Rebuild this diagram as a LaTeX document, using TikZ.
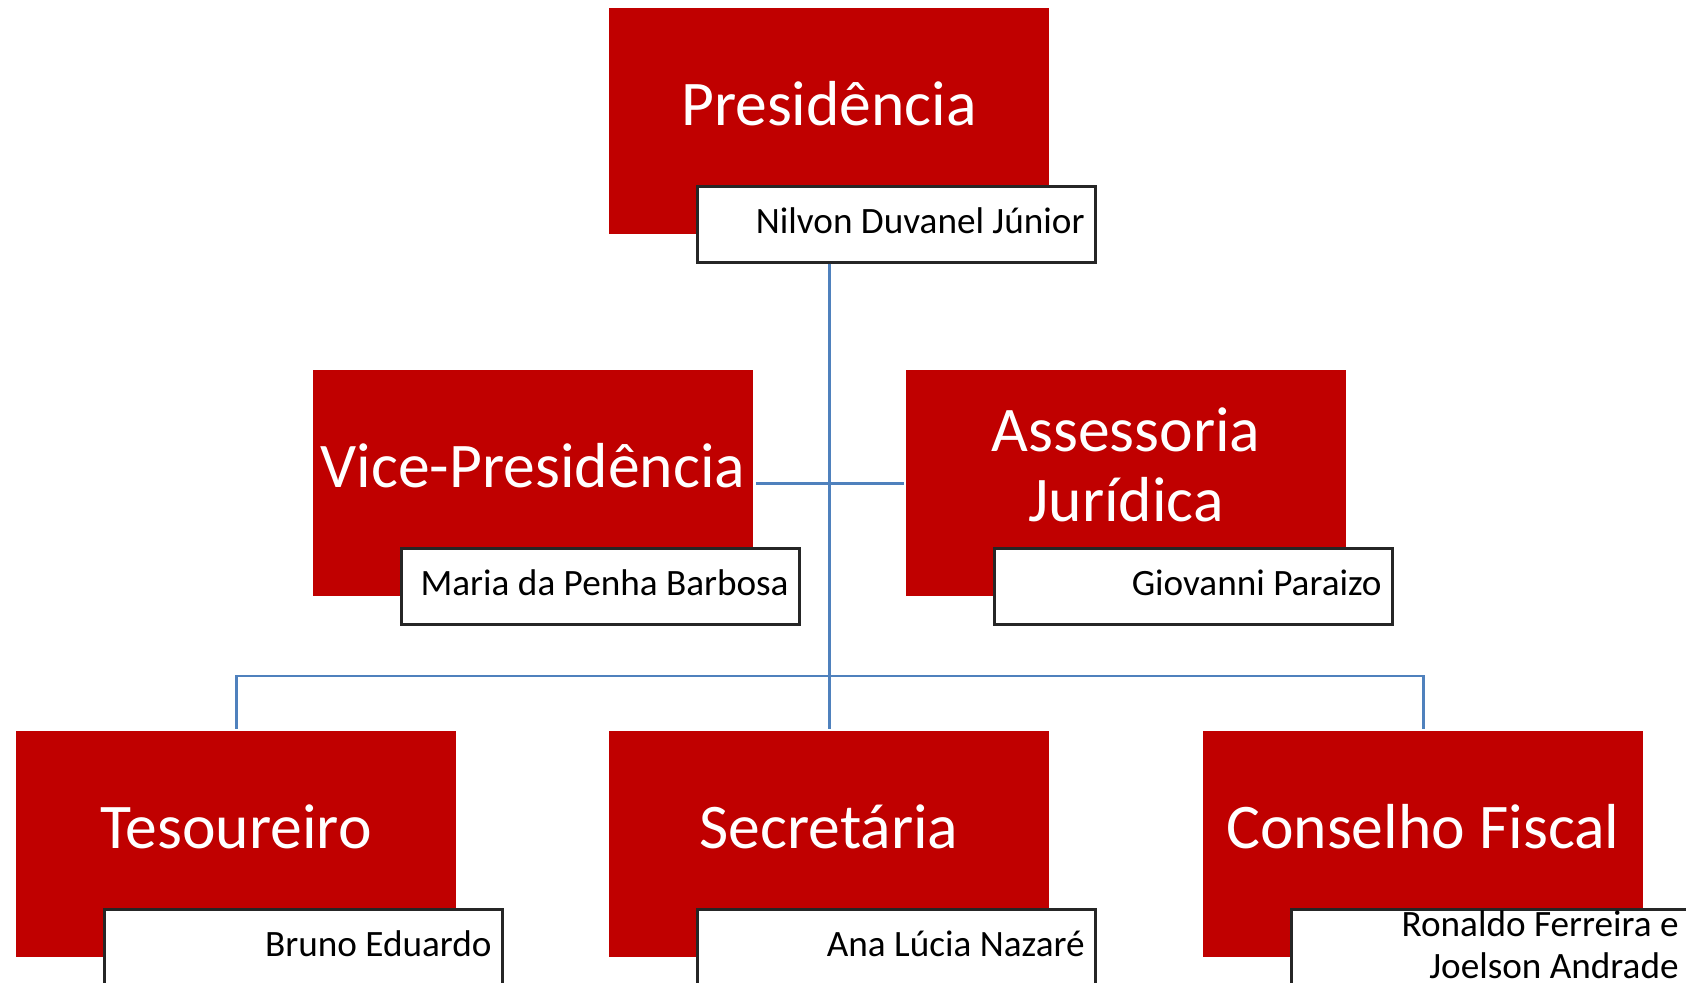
\documentclass[tikz,border=0pt]{standalone}
\usepackage{fontspec}
\setmainfont{Carlito}
\definecolor{boxred}{HTML}{C00000}
\definecolor{linkblue}{HTML}{4F81BD}
\begin{document}
\begin{tikzpicture}[x=0.5pt,y=-0.5pt,
  redbox/.style={fill=boxred,draw=none,minimum width=220pt,minimum height=113pt,anchor=north west,inner sep=0pt},
  namebox/.style={fill=white,draw=black!85,line width=1.25pt,minimum width=199pt,minimum height=38pt,anchor=north west,inner sep=0pt},
  titletext/.style={text=white,font=\fontsize{31.8pt}{35pt}\selectfont,anchor=base,inner sep=0pt,align=center},
  nametext/.style={text=black,font=\fontsize{18.6pt}{20.85pt}\selectfont,anchor=base east,inner sep=0pt,align=right},
  conn/.style={draw=linkblue,line width=1.35pt}]
\useasboundingbox (0,0) rectangle (1686,982);
% boxes
\node[redbox] (pres) at (609,8) {};
\node[redbox] (vice) at (313,370) {};
\node[redbox] (asse) at (906,370) {};
\node[redbox] (tes) at (16,731) {};
\node[redbox] (sec) at (609,731) {};
\node[redbox] (cons) at (1203,731) {};
\node[namebox] (presN) at (696,185) {};
\node[namebox] (viceN) at (400,547) {};
\node[namebox] (asseN) at (993,547) {};
\node[namebox] (tesN) at (103,908) {};
\node[namebox] (secN) at (696,908) {};
\node[namebox] (consN) at (1290,908) {};
% titles
\node[titletext] (presT) at (829,125) {Presidência};
\node[titletext] (viceT) at (533,487) {Vice-Presidência};
\node[titletext] (asseT) at (1126,521) {Assessoria\\Jurídica};
\node[titletext] (tesT) at (236,848) {Tesoureiro};
\node[titletext] (secT) at (829,848) {Secretária};
\node[titletext] (consT) at (1423,848) {Conselho Fiscal};
% names
\node[nametext] (presNT) at (1085,233) {Nilvon Duvanel Júnior};
\node[nametext] (viceNT) at (789,595) {Maria da Penha Barbosa};
\node[nametext] (asseNT) at (1382,595) {Giovanni Paraizo};
\node[nametext] (tesNT) at (492,956) {Bruno Eduardo};
\node[nametext] (secNT) at (1085,956) {Ana Lúcia Nazaré};
\node[nametext] (consNT) at (1679,978) {Ronaldo Ferreira e\\Joelson Andrade};
% connectors
\coordinate (bus) at (829,676);
\draw[conn,shorten >=1.2pt] (pres.center |- presN.south) -- (sec.north);
\draw[conn,shorten <=1.2pt,shorten >=1.2pt] (vice.east) -- (asse.west);
\draw[conn,shorten <=1.2pt,shorten >=1.2pt] (tes.north) |- (bus) -| (cons.north);
\end{tikzpicture}
\end{document}
